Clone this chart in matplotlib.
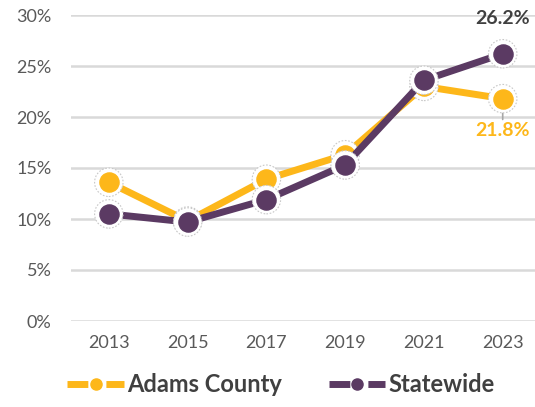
import matplotlib.pyplot as plt

years = ['2013', '2015', '2017', '2019', '2021', '2023']
adams = [13.6, 9.8, 13.9, 16.3, 23.0, 21.8]
statewide = [10.5, 9.7, 11.9, 15.3, 23.6, 26.2]

YELLOW = '#FDB71A'
PURPLE = '#5B3A63'
GRAY = '#595959'

plt.rcParams['font.family'] = ['Lato', 'DejaVu Sans']

fig = plt.figure(figsize=(5.35, 4.07), dpi=100)
ax = fig.add_axes([71 / 535, 1 - 321 / 407, 464 / 535, 306 / 407])

x = list(range(len(years)))

for vals, col, z in [(adams, YELLOW, 3), (statewide, PURPLE, 4)]:
    ax.plot(x, vals, color=col, lw=5, zorder=z, solid_capstyle='round')
    # white halo with dotted edge
    ax.scatter(x, vals, s=420, facecolor='white', edgecolor='#C8C8C8',
               linewidth=0.8, linestyle=(0, (1.5, 1.5)), zorder=z + 0.1)
    ax.scatter(x, vals, s=190, color=col, zorder=z + 0.2)

ax.set_xlim(-0.48, 5.41)
ax.set_ylim(0, 30)
ax.set_yticks(range(0, 31, 5))
ax.set_yticklabels([f'{v}%' for v in range(0, 31, 5)])
ax.set_xticks(x)
ax.set_xticklabels(years)
ax.grid(axis='y', color='#D9D9D9', lw=1.8)
ax.set_axisbelow(True)
for s in ax.spines.values():
    s.set_visible(False)
ax.tick_params(length=0, labelsize=13, colors=GRAY)
ax.tick_params(axis='y', pad=14)
ax.tick_params(axis='x', pad=10)

ax.annotate(f'{statewide[-1]}%', (x[-1], statewide[-1]), xytext=(0, 19),
            textcoords='offset points', ha='center', va='bottom',
            fontsize=14, fontweight='bold', color='#404040')
ax.annotate(f'{adams[-1]}%', (x[-1], adams[-1]), xytext=(0, -17),
            textcoords='offset points', ha='center', va='top',
            fontsize=14, fontweight='bold', color=YELLOW,
            arrowprops=dict(arrowstyle='-', color='#A6A6A6', lw=1.2,
                            shrinkA=0, shrinkB=0))

# legend handles: segment, dot, segment
dash = (0, (3.0, 2.6, 4.4))
h1, = ax.plot([], [], color=YELLOW, lw=5, linestyle=dash, marker='o', ms=8)
h2, = ax.plot([], [], color=PURPLE, lw=5, linestyle=dash, marker='o', ms=8)
fig.legend([h1, h2], ['Adams County', 'Statewide'], loc='lower center',
           bbox_to_anchor=(0.525, -0.025), ncol=2, frameon=False,
           prop={'size': 17, 'weight': 'bold'}, labelcolor='#404040',
           handlelength=2.4, handletextpad=0.12, columnspacing=2.0)

fig.savefig('out.png', dpi=100)
